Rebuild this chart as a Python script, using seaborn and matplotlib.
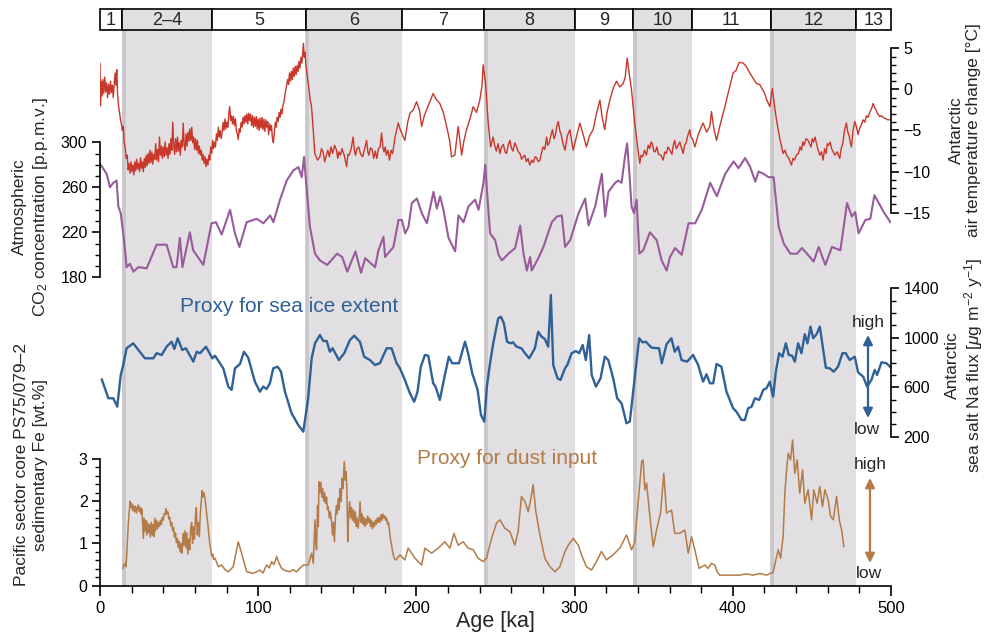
import numpy as np
import pandas as pd
import matplotlib
matplotlib.use("Agg")
import matplotlib.pyplot as plt
from matplotlib.patches import Rectangle, FancyArrowPatch
from matplotlib.ticker import FixedLocator
import seaborn as sns

# ---------------------------------------------------------------- data
# Marine isotope stages: labels, boundaries [ka] and glacial flag
stage_labels = ["1", "2\u20134", "5", "6", "7", "8", "9", "10", "11", "12", "13"]
stage_edges = [0, 14, 71, 130, 191, 243, 300, 337, 374, 424, 478, 500]
stage_glacial = [False, True, False, True, False, True, False, True, False, True, False]

# Antarctic air temperature change [deg C]  (ten values per row)
temp_age = [
    0, 0.3, 0.8, 1.3, 1.8, 2.4, 3, 3.6, 4.2, 4.8,
    5.4, 6, 6.6, 7.2, 7.8, 8.4, 9, 9.6, 10.1, 10.6,
    11.1, 11.6, 12.3, 12.9, 13.5, 14.1, 14.7, 15.3, 16, 16.6,
    17.2, 17.8, 18.4, 19, 19.6, 20.2, 20.8, 21.4, 22, 22.6,
    23.2, 23.8, 24.4, 25, 25.6, 26.2, 26.8, 27.4, 28, 28.6,
    29.2, 29.8, 30.4, 31, 31.6, 32.2, 32.8, 33.4, 34, 34.6,
    35.2, 35.8, 36.4, 37, 37.6, 38.2, 38.8, 39.4, 40, 40.6,
    41.2, 41.8, 42.4, 43, 43.6, 44.2, 44.8, 45.4, 46, 46.6,
    47.2, 47.8, 48.4, 49, 49.6, 50.2, 50.8, 51.4, 52, 52.6,
    53.2, 53.8, 54.4, 55, 55.6, 56.2, 56.8, 57.4, 58, 58.6,
    59.2, 59.8, 60.4, 61, 61.6, 62.2, 62.8, 63.4, 64, 64.6,
    65.2, 65.8, 66.4, 67, 67.6, 68.2, 68.8, 69.4, 70, 70.6,
    71.2, 71.8, 72.4, 73, 73.6, 74.2, 74.8, 75.4, 76, 76.6,
    77.2, 77.8, 78.4, 79, 79.6, 80.2, 80.8, 81.4, 82, 82.6,
    83.2, 83.8, 84.4, 85, 85.6, 86.2, 86.8, 87.4, 88, 88.6,
    89.2, 89.8, 90.4, 91, 91.6, 92.2, 92.8, 93.4, 94, 94.6,
    95.2, 95.8, 96.4, 97, 97.6, 98.2, 98.8, 99.4, 100, 100.6,
    101.2, 101.8, 102.4, 103, 103.6, 104.2, 104.8, 105.4, 106, 106.6,
    107.2, 107.8, 108.4, 109, 109.6, 110.2, 110.8, 111.4, 112, 112.6,
    113.2, 113.8, 114.4, 115, 115.6, 116.2, 116.8, 117.4, 118, 118.6,
    119.2, 119.8, 120.4, 121, 121.6, 122.2, 122.8, 123.4, 124, 124.6,
    125.2, 125.8, 126.4, 127, 127.6, 128.2, 128.6, 129.1, 129.6, 130.2,
    130.8, 131.4, 132, 132.8, 133.7, 135, 135.8, 137.5, 139, 140,
    141, 142, 143, 144, 145, 146, 147, 148.3, 149.5, 150.3,
    151, 152, 153, 154.5, 155.9, 156.7, 157.5, 158.8, 160, 160.8,
    161.5, 162.5, 163.5, 164.8, 166, 167.2, 168.5, 169.3, 170, 171,
    172, 173, 174, 175, 176, 177, 178, 178.8, 179.5, 180.3,
    181, 182, 183, 184, 185, 186.5, 188.5, 190, 192.7, 194.5,
    195.9, 198, 200.1, 202, 203.3, 205, 206.4, 208.5, 210.6, 212.5,
    214.8, 217, 219.1, 221, 222.2, 224.3, 226.4, 228.6, 230, 231.7,
    234, 235.9, 238, 240.1, 241.5, 242.2, 243.7, 245.4, 246.9, 248.5,
    249.5, 250.5, 251.6, 252.8, 254, 255, 256, 257, 258, 259.1,
    260, 261, 262.2, 263.3, 264.4, 265.5, 266.5, 267.5, 268.5, 269.5,
    270.6, 271.7, 273, 274, 275, 276, 277, 278.1, 279, 280,
    281.2, 282.3, 283, 284, 285, 286, 287, 287.8, 288.8, 289.7,
    290.6, 291.5, 292.7, 293.9, 295.5, 297, 299.1, 301, 303.3, 305,
    307.5, 309.5, 311.7, 313.5, 316, 317.5, 319.1, 320.5, 322.3, 324.5,
    326.5, 328.5, 330.7, 332, 333.2, 334.5, 336, 338, 339.5, 341.2,
    342, 343, 344.2, 345.4, 346.5, 347.5, 348.3, 349.2, 350, 351,
    352, 353, 354.5, 356, 357, 358, 359, 360, 361.5, 362.4,
    363.3, 364.2, 365, 366.5, 367.5, 368.6, 369.5, 370.5, 371.6, 372.8,
    373.6, 374.5, 376, 378, 380, 381.2, 383.5, 385.5, 386.5, 388,
    389.7, 392, 395, 397.5, 400.2, 402, 404, 406.6, 408.5, 410.7,
    413, 415, 417, 420.2, 421.5, 423.4, 424.5, 425, 426.2, 427.6,
    429.5, 431.8, 433, 434, 435.5, 436.3, 437.1, 438, 439, 440.2,
    441.5, 442.5, 443.4, 444.2, 445, 446.3, 447.6, 448.5, 449.5, 450.2,
    451, 452, 452.9, 454, 455, 456, 457.1, 458, 459, 459.8,
    460.5, 461.5, 462.4, 463.5, 464.5, 466, 467.6, 468.5, 469.5, 470.6,
    471.8, 472.7, 473.5, 474.2, 475, 476, 477.1, 478.2, 479.2, 480.1,
    481, 482.4, 483.5, 484.5, 485.5, 486.5, 487.6, 488.7, 489.6, 490.5,
    491.7, 492.9, 494, 495, 496, 497, 498, 499.2]
temp_val = [
    3.2, -2.0, 1.0, -0.8, 1.2, -0.5, 1.5, -0.3, 0.8, -1.0,
    0.6, -0.6, 1.0, -0.4, 0.5, -1.0, 0.8, 2.0, 0.5, 2.4,
    -0.5, -1.8, -2.8, -3.6, -4.2, -5.0, -4.5, -6.5, -7.2, -8.4,
    -8.0, -9.8, -9.0, -10.2, -8.8, -10.0, -9.2, -10.4, -8.8, -9.9,
    -8.5, -9.7, -9.0, -10.0, -8.3, -9.6, -8.8, -10.0, -8.4, -9.5,
    -8.0, -9.3, -7.8, -9.0, -7.4, -8.9, -7.6, -9.1, -7.9, -8.5,
    -6.6, -8.6, -7.3, -8.8, -5.8, -8.0, -6.9, -8.4, -7.0, -8.2,
    -6.4, -8.0, -7.1, -8.4, -6.6, -7.9, -6.0, -7.4, -4.0, -6.8,
    -7.9, -6.0, -7.6, -5.8, -7.5, -6.5, -8.0, -6.2, -7.0, -4.1,
    -6.8, -7.4, -5.4, -6.9, -5.2, -6.3, -4.8, -6.2, -4.6, -6.5,
    -5.8, -7.3, -6.0, -7.4, -6.2, -7.8, -6.9, -8.0, -7.4, -8.6,
    -7.9, -9.0, -8.2, -9.4, -8.5, -9.2, -8.0, -8.6, -7.0, -7.8,
    -6.2, -7.2, -6.4, -7.0, -5.4, -6.2, -4.6, -5.8, -5.0, -6.0,
    -5.2, -4.0, -5.0, -3.6, -4.8, -4.0, -4.6, -3.0, -2.1, -3.8,
    -3.2, -4.2, -3.3, -4.4, -3.6, -5.0, -5.4, -6.1, -4.8, -5.2,
    -4.0, -4.6, -3.4, -4.2, -3.2, -4.0, -3.0, -4.2, -2.9, -3.8,
    -3.0, -4.4, -3.2, -4.6, -3.4, -4.5, -3.3, -4.8, -3.6, -5.0,
    -3.5, -4.7, -3.4, -4.9, -3.6, -5.1, -3.7, -4.6, -3.9, -5.5,
    -4.2, -5.0, -4.4, -6.0, -6.5, -5.2, -4.0, -4.6, -3.4, -3.9,
    -2.8, -3.4, -2.4, -3.0, -2.0, -1.6, -0.8, -0.1, 0.5, 1.2,
    0.6, 2.0, 1.0, 2.2, 1.2, 2.6, 1.6, 2.8, 1.8, 2.9,
    2.2, 3.4, 2.6, 3.9, 3.2, 4.6, 5.6, 3.9, 4.5, 2.8,
    2.0, 1.0, 0.2, -1.2, -2.1, -5.5, -7.8, -8.6, -8.2, -7.2,
    -7.6, -8.8, -8.1, -7.4, -8.2, -7.0, -7.8, -6.8, -7.4, -8.4,
    -7.6, -8.0, -7.2, -8.1, -9.4, -7.9, -8.0, -7.2, -5.8, -7.4,
    -8.0, -7.2, -7.0, -7.9, -8.2, -7.3, -6.2, -7.6, -8.0, -7.1,
    -7.3, -8.4, -7.5, -8.4, -7.2, -7.0, -5.3, -7.0, -7.6, -7.0,
    -8.0, -7.4, -8.6, -7.4, -7.8, -5.8, -4.1, -5.0, -6.2, -4.0,
    -2.9, -2.5, -1.5, -2.6, -4.5, -3.2, -2.5, -1.5, -0.5, -1.2,
    -1.7, -2.8, -4.5, -6.2, -8.2, -8.0, -4.5, -8.0, -6.3, -4.9,
    -3.5, -2.1, -2.8, -1.3, 0.5, 3.0, 0.8, -4.1, -7.0, -5.8,
    -6.8, -7.5, -6.6, -7.8, -6.9, -6.7, -7.6, -7.8, -6.8, -6.2,
    -7.1, -7.5, -6.5, -7.0, -7.6, -7.8, -8.5, -8.2, -8.0, -8.8,
    -8.4, -9.2, -8.6, -8.9, -8.2, -8.3, -8.8, -8.6, -7.8, -7.0,
    -7.3, -5.8, -6.8, -6.5, -5.6, -4.9, -6.0, -5.6, -4.4, -3.9,
    -5.0, -5.5, -6.6, -7.4, -5.6, -4.9, -7.4, -5.9, -4.1, -5.2,
    -7.0, -5.6, -4.9, -3.2, -1.3, -3.5, -4.9, -2.8, -1.3, 0.2,
    1.0, 0.3, 0.7, 1.5, 3.8, 2.0, -0.1, -4.1, -6.5, -9.0,
    -8.0, -8.2, -7.4, -8.0, -6.8, -7.2, -6.4, -6.6, -7.5, -7.6,
    -7.0, -7.9, -8.0, -8.6, -7.6, -7.8, -7.0, -7.3, -7.9, -6.8,
    -6.2, -7.2, -7.0, -6.4, -7.1, -7.8, -6.8, -6.5, -5.6, -4.9,
    -5.8, -6.0, -7.0, -5.6, -4.6, -4.1, -5.2, -4.5, -2.7, -4.7,
    -6.2, -4.3, -2.1, -0.1, 2.0, 2.3, 3.3, 3.2, 2.8, 2.0,
    1.3, 0.7, 0.6, -0.5, -1.3, -2.1, -0.5, 0.1, -1.8, -3.7,
    -5.8, -7.8, -7.4, -8.0, -8.4, -8.9, -9.2, -8.4, -8.6, -8.0,
    -7.8, -7.0, -7.4, -6.4, -6.8, -6.0, -6.2, -6.6, -7.0, -6.0,
    -6.4, -5.8, -6.6, -7.4, -8.0, -7.6, -8.6, -7.2, -7.8, -6.6,
    -6.8, -6.4, -7.2, -7.6, -8.0, -7.6, -8.4, -7.2, -6.6, -5.0,
    -4.1, -5.2, -5.6, -6.4, -7.0, -5.0, -3.9, -4.6, -5.5, -4.8,
    -4.4, -3.7, -4.0, -3.2, -3.4, -2.8, -2.4, -1.7, -2.2, -2.5,
    -3.0, -3.3, -3.2, -3.4, -3.5, -3.6, -3.7, -3.7]

# Atmospheric CO2 [p.p.m.v.]
co2_age = [
    0, 4.2, 6.3, 8.4, 10.5, 11.6, 13.1, 15.2, 16.8, 18.9,
    21.1, 24.2, 29.5, 35.8, 42.1, 46.3, 48.4, 50.5, 52.1, 56.8,
    58.9, 65.3, 70.5, 73.3, 76.9, 82.2, 85.3, 88.1, 92.7, 99.1,
    103.3, 107.5, 109.6, 113.8, 118, 122.2, 125.4, 127.5, 129, 130.2,
    132.7, 135.9, 139, 143.6, 149.9, 153.1, 156.3, 161.5, 165, 167.6,
    173.9, 176, 179.2, 180.2, 185.5, 188.7, 190.8, 192.9, 195, 197.1,
    200.3, 203.4, 206.6, 210.8, 212.9, 215, 217.1, 220.3, 224.5, 226.6,
    229.8, 232.9, 237.1, 239.3, 242.4, 243.5, 245, 246.6, 249.8, 251.9,
    254, 258.2, 262.4, 265.6, 267.7, 269.8, 271.9, 272.9, 277.1, 280.3,
    285.6, 288.8, 291.9, 294, 297.2, 302.5, 306.7, 308.8, 313, 317.2,
    319.3, 321.4, 325.6, 327.6, 329.7, 331.8, 333.2, 334.5, 336, 337.5,
    339.2, 340.9, 343.4, 347.6, 351.9, 355, 358.2, 360.3, 363.5, 367.7,
    372, 376.2, 380.4, 385.7, 389.9, 395.2, 400.5, 403.6, 407.8, 411,
    414.2, 416.3, 419.4, 422.6, 425.8, 429, 432.2, 436.4, 440.6, 443.7,
    446.9, 451.1, 454.3, 458.5, 462.7, 468, 472.2, 475.3, 477.4, 479.5,
    483.8, 486.9, 489.5, 492.3, 495.4, 499.6]
co2_val = [
    281, 272, 260, 264, 266, 243, 237, 213, 189, 192,
    185, 189, 188, 209, 209, 189, 189, 215, 189, 220,
    204, 191, 228, 229, 218, 240, 219, 207, 229, 232,
    228, 235, 229, 249, 266, 275, 278, 269, 287, 266,
    225, 201, 195, 191, 201, 198, 185, 203, 184, 197,
    189, 204, 216, 198, 207, 231, 231, 219, 225, 246,
    250, 237, 228, 256, 241, 252, 240, 215, 203, 235,
    229, 243, 249, 240, 264, 280, 249, 219, 213, 200,
    195, 201, 206, 226, 201, 186, 198, 186, 197, 207,
    229, 234, 235, 207, 213, 237, 250, 226, 243, 272,
    234, 256, 264, 266, 264, 287, 299, 275, 243, 237,
    249, 201, 204, 220, 213, 195, 186, 198, 206, 200,
    228, 228, 240, 264, 252, 272, 283, 277, 286, 278,
    265, 274, 272, 269, 269, 225, 210, 201, 201, 206,
    201, 194, 207, 191, 207, 204, 246, 234, 238, 219,
    231, 232, 253, 246, 238, 229]

# Antarctic sea salt Na flux [ug m-2 y-1]
na_age = [
    1.1, 5.3, 8.4, 10.9, 13.1, 14.7, 16.8, 21, 28.4, 33.7,
    35.8, 39, 42.1, 45.3, 47, 49.1, 52, 54.3, 59, 61.1,
    63.2, 67, 71, 72.7, 77.9, 81.1, 83.2, 85.3, 88.5, 91,
    93.7, 97.9, 101.1, 103.2, 105.3, 107.4, 109.5, 112.3, 114.4, 116.9,
    121.1, 125.3, 128.5, 131.6, 133.8, 135.9, 139, 141.1, 143.3, 145.3,
    147, 151, 154.4, 158, 160.7, 164.3, 167, 170.6, 173.8, 176.9,
    181.2, 184.3, 187.5, 189.6, 192.7, 195.9, 198.6, 200.7, 202.8, 205.4,
    207.5, 210.6, 212.1, 214.8, 218, 220.5, 222.6, 226.9, 230.7, 232.7,
    235.3, 238.7, 240.8, 242.9, 244.5, 246.4, 248.5, 251.7, 253.4, 255.3,
    257.3, 259.5, 261.1, 263.3, 266.4, 268.6, 271.3, 274.9, 277, 279.1,
    281.2, 283.3, 285, 286.5, 289.2, 291.1, 293.9, 295.4, 298.1, 300.8,
    302.9, 305.1, 307.1, 309.2, 310.8, 313.5, 316.4, 319.1, 321.3, 324.4,
    326.9, 329.7, 332.8, 334.9, 337.7, 340.8, 343, 345, 348.6, 353.4,
    355.1, 358.1, 361.2, 363.3, 365.4, 367.6, 371.1, 374.9, 378.1, 381.2,
    383.4, 385.5, 387.6, 389.7, 392.8, 396, 400.2, 402.3, 405.5, 407.6,
    409.7, 411.9, 414, 416.7, 419.2, 421.3, 423.4, 425.5, 427.2, 429.3,
    431.4, 433.5, 435.4, 437.5, 439.2, 441.3, 443.4, 445.5, 447.2, 449.1,
    450.8, 452.9, 455, 458.8, 461.3, 463.8, 466.5, 469.3, 471.4, 473.9,
    477.1, 479.2, 482.4, 484.9, 487.6, 489.7, 491.2, 494, 497.1, 500]
na_val = [
    664, 511, 511, 443, 699, 780, 915, 955, 834, 834,
    875, 861, 928, 968, 909, 996, 901, 915, 807, 887,
    875, 928, 834, 855, 753, 605, 578, 753, 788, 887,
    839, 645, 564, 605, 586, 632, 753, 766, 726, 564,
    390, 295, 241, 511, 834, 955, 1022, 974, 974, 887,
    915, 820, 875, 982, 1017, 968, 847, 820, 780, 794,
    915, 915, 794, 753, 659, 551, 483, 564, 766, 861,
    855, 632, 605, 497, 699, 847, 794, 794, 968, 875,
    713, 578, 376, 322, 600, 780, 950, 1157, 1170, 1117,
    968, 955, 963, 928, 915, 875, 834, 915, 1049, 1009,
    990, 928, 1346, 780, 672, 659, 753, 780, 875, 893,
    875, 942, 820, 1022, 699, 605, 672, 847, 820, 672,
    511, 470, 309, 322, 645, 996, 963, 968, 920, 915,
    794, 947, 996, 887, 928, 820, 807, 861, 780, 645,
    705, 632, 632, 788, 766, 564, 430, 402, 335, 335,
    430, 443, 511, 497, 578, 592, 645, 524, 726, 875,
    847, 955, 861, 855, 807, 955, 875, 1028, 955, 1090,
    996, 1028, 1090, 758, 753, 726, 766, 875, 875, 820,
    847, 721, 685, 605, 659, 740, 699, 802, 794, 758]

# Sedimentary Fe, core PS75/079-2 [wt.%]
fe_age = [
    14.3, 15, 15.8, 16.4, 16.9, 17.4, 17.9, 18.5, 19, 19.4,
    20, 20.6, 21.2, 21.8, 22.4, 23, 23.6, 24.2, 24.8, 25.4,
    26, 26.5, 27, 27.4, 27.9, 28.4, 28.9, 29.5, 30, 30.6,
    31.2, 31.8, 32.4, 33, 33.5, 34, 34.6, 35.2, 35.8, 36.4,
    37, 37.6, 38.2, 38.8, 39.4, 40, 40.6, 41.2, 41.7, 42.3,
    42.9, 43.5, 44.1, 44.7, 45.3, 45.9, 46.5, 47.1, 47.7, 48.3,
    48.9, 49.5, 50.1, 50.7, 51.3, 51.9, 52.5, 53.1, 53.7, 54.3,
    54.9, 55.5, 56.1, 56.7, 57.3, 57.9, 58.5, 59.1, 59.7, 60.3,
    60.9, 61.5, 62.1, 62.8, 63.4, 64, 64.6, 65.2, 65.8, 66.4,
    67, 67.6, 68.2, 68.8, 69.4, 70, 70.6, 71.2, 71.8, 72.7,
    74.8, 76.9, 79, 81.1, 84.2, 87.4, 89.5, 92.7, 96.9, 101.1,
    103, 105.3, 107, 108.5, 110, 111.7, 113, 114.8, 117, 120.1,
    122, 124.3, 126.5, 128.5, 131.6, 133.8, 134.8, 135.9, 136.4, 136.9,
    137.5, 138, 138.4, 139, 139.6, 140.2, 140.8, 141.4, 142, 142.6,
    143.2, 143.8, 144.3, 145, 145.6, 146.4, 147, 147.6, 148.2, 148.8,
    149.4, 150, 150.6, 151.2, 151.8, 152.4, 153, 153.6, 154.4, 155,
    155.6, 156.1, 156.6, 157.2, 157.8, 158.4, 159, 159.6, 160.2, 160.8,
    161.4, 162, 162.6, 163.2, 163.8, 164.4, 165, 165.6, 166.2, 166.8,
    167.4, 168, 168.6, 169.2, 169.8, 170.4, 171, 171.6, 172.2, 172.8,
    173.4, 174, 174.6, 175.2, 175.8, 176.4, 177, 177.6, 178.2, 178.8,
    179.4, 180, 180.6, 181.2, 181.8, 182.4, 183, 183.6, 184.3, 185,
    185.6, 186.3, 187, 189.6, 192.7, 194.8, 199.1, 203.3, 205.4, 209.6,
    213.8, 218, 221.2, 223.7, 226.4, 229.6, 232.7, 235.9, 239, 242.2,
    244.3, 247.5, 250.6, 252.8, 255.9, 259.1, 262.2, 264.3, 266.4, 268.6,
    270.7, 272.4, 273.8, 275.5, 278.1, 281.2, 284.4, 287.6, 290.7, 293.9,
    296, 299.1, 302.3, 304.4, 307.5, 310.7, 313.8, 317, 320.1, 324.3,
    328.6, 332.8, 336, 338.1, 340.2, 342.4, 343.3, 344.4, 345.5, 347.6,
    349.7, 351.8, 354.3, 356.4, 358.1, 361.3, 363.3, 366.5, 369.7, 371.8,
    373.9, 376, 378.7, 382.3, 384.4, 386.5, 388.6, 390.1, 391.8, 398.1,
    404.4, 408.6, 412.8, 417.1, 421.3, 423.4, 425.5, 427.2, 428.7, 430.2,
    431.8, 432.9, 434, 435, 436.5, 437.8, 439.2, 440.7, 442.3, 444.1,
    445.5, 447.6, 449.8, 451.2, 453.3, 455, 456.7, 458.2, 460.3, 461.8,
    463.5, 465.6, 467.3, 468.8, 470.2]
fe_val = [
    0.41, 0.48, 0.53, 0.45, 0.73, 1.10, 1.48, 1.75, 2.00, 1.85,
    1.95, 1.78, 1.90, 1.75, 1.88, 1.72, 1.85, 1.91, 1.75, 1.86,
    1.70, 1.82, 1.40, 1.12, 1.60, 1.30, 1.55, 1.20, 1.50, 1.25,
    1.45, 1.15, 1.50, 1.20, 1.45, 1.16, 1.60, 1.30, 1.55, 1.35,
    1.50, 1.40, 1.55, 1.45, 1.62, 1.55, 1.70, 1.68, 1.83, 1.70,
    1.75, 1.58, 1.62, 1.42, 1.50, 1.30, 1.38, 1.15, 1.25, 1.02,
    1.12, 0.90, 1.05, 0.80, 1.00, 0.77, 1.24, 0.95, 1.30, 0.90,
    1.25, 0.75, 1.10, 0.85, 1.35, 1.50, 1.00, 1.40, 1.10, 1.60,
    1.85, 1.20, 1.50, 1.16, 1.70, 2.00, 2.25, 2.10, 2.20, 2.05,
    1.85, 1.65, 1.45, 1.20, 1.00, 0.85, 0.70, 0.75, 0.62, 0.65,
    0.45, 0.49, 0.38, 0.33, 0.45, 1.04, 0.77, 0.33, 0.29, 0.37,
    0.30, 0.49, 0.42, 0.57, 0.50, 0.69, 0.55, 0.41, 0.36, 0.33,
    0.38, 0.33, 0.42, 0.49, 0.49, 0.77, 0.53, 1.56, 1.00, 0.85,
    1.90, 1.40, 2.46, 2.20, 2.45, 2.10, 2.30, 2.00, 2.20, 1.95,
    2.10, 1.80, 1.87, 1.60, 1.75, 1.50, 1.20, 1.50, 1.04, 1.60,
    1.90, 1.70, 2.07, 1.80, 2.30, 2.00, 2.54, 2.30, 2.94, 2.50,
    2.70, 2.20, 1.04, 1.70, 1.99, 1.60, 1.85, 1.55, 1.80, 1.50,
    1.75, 1.40, 1.60, 1.36, 1.60, 1.99, 1.50, 1.70, 1.45, 1.62,
    1.40, 1.58, 1.45, 1.65, 1.50, 1.60, 1.40, 1.55, 1.35, 1.50,
    1.40, 1.55, 1.45, 1.60, 1.50, 1.62, 1.50, 1.68, 1.55, 1.70,
    1.60, 1.65, 1.55, 1.60, 1.45, 1.50, 1.30, 1.10, 0.96, 0.80,
    0.70, 0.62, 0.61, 0.73, 0.61, 0.89, 0.65, 0.49, 0.89, 0.77,
    0.89, 1.04, 0.89, 1.24, 0.96, 1.04, 0.89, 0.85, 0.65, 0.57,
    0.65, 1.12, 1.48, 1.56, 1.36, 1.28, 0.96, 1.28, 2.11, 1.99,
    1.75, 2.07, 2.39, 1.75, 1.20, 0.65, 0.45, 0.33, 0.45, 0.81,
    0.96, 1.12, 0.96, 0.73, 0.45, 0.37, 0.57, 0.81, 0.61, 0.73,
    0.89, 1.20, 0.85, 1.04, 1.99, 2.94, 2.98, 2.27, 2.43, 1.64,
    0.92, 1.32, 1.72, 2.66, 1.72, 1.79, 1.24, 1.24, 1.32, 0.77,
    1.16, 0.85, 0.41, 0.49, 0.41, 0.53, 0.49, 0.33, 0.25, 0.25,
    0.25, 0.28, 0.25, 0.29, 0.25, 0.29, 0.31, 0.61, 0.85, 0.65,
    1.16, 2.19, 2.74, 3.14, 2.98, 3.45, 2.66, 2.98, 2.19, 2.74,
    1.95, 2.27, 1.56, 2.27, 1.95, 2.35, 1.87, 2.27, 2.03, 1.64,
    1.56, 2.11, 1.56, 1.32, 0.92]

# ---------------------------------------------------------------- style
sns.set_theme(style="white")
plt.rcParams["font.family"] = ["Liberation Sans", "DejaVu Sans"]
plt.rcParams["mathtext.fontset"] = "custom"
plt.rcParams["mathtext.rm"] = "Liberation Sans"
plt.rcParams["mathtext.it"] = "Liberation Sans:italic"
plt.rcParams["mathtext.bf"] = "Liberation Sans:bold"

RED = "#c8372a"
PURPLE = "#985b9b"
BLUE = "#2f6096"
BROWN = "#b27b48"
SHADE = "#e1dfe1"
TERM = "#c8c6c8"
TICK_FS = 11.5

W, H = 985, 637
L, R, T, B = 100, 891, 30, 585.7   # plotting frame in pixels


def fx(px):
    return px / W


def fy(py):
    return 1 - py / H


rect = [fx(L), fy(B), fx(R) - fx(L), fy(T) - fy(B)]


def lims(v1, p1, v2, p2):
    """y-limits so that value v1 sits at pixel row p1 and v2 at p2."""
    k = (v2 - v1) / (p2 - p1)
    return v1 + k * (B - p1), v1 + k * (T - p1)


fig = plt.figure(figsize=(W / 100, H / 100), dpi=100)

# background: glacial shading and terminations
ax_bg = fig.add_axes(rect)
ax_bg.set_xlim(0, 500)
ax_bg.set_ylim(0, 1)
ax_bg.axis("off")
for i, g in enumerate(stage_glacial):
    if g:
        a, b = stage_edges[i], stage_edges[i + 1]
        ax_bg.axvspan(a, b, color=SHADE, lw=0, zorder=0)
        ax_bg.axvline(a + 0.9, color=TERM, lw=2.6, zorder=1)

# stage strip on top
ax_top = fig.add_axes([fx(L), fy(T), fx(R) - fx(L), (T - 9.3) / H])
ax_top.set_xlim(0, 500)
ax_top.set_ylim(0, 1)
ax_top.axis("off")
for i, lab in enumerate(stage_labels):
    a, b = stage_edges[i], stage_edges[i + 1]
    ax_top.add_patch(Rectangle((a, 0), b - a, 1,
                               facecolor=SHADE if stage_glacial[i] else "white",
                               edgecolor="black", lw=1.2, clip_on=False))
    ax_top.text((a + b) / 2, 0.45, lab, ha="center", va="center", fontsize=13)


def new_axes():
    ax = fig.add_axes(rect)
    ax.patch.set_visible(False)
    return ax


def finish(ax, side, lo, hi, major, minor, ylim, show_x=False):
    ax.set_xlim(0, 500)
    ax.set_ylim(*ylim)
    for s in ax.spines.values():
        s.set_visible(False)
    sp = ax.spines[side]
    sp.set_visible(True)
    sp.set_bounds(lo, hi)
    sp.set_linewidth(1.2)
    sp.set_color("black")
    ax.yaxis.set_major_locator(FixedLocator(major))
    ax.yaxis.set_minor_locator(FixedLocator(minor))
    if side == "right":
        ax.yaxis.tick_right()
    else:
        ax.yaxis.tick_left()
    ax.tick_params(axis="y", which="major", direction="out", length=6, width=1.2,
                   labelsize=TICK_FS, pad=3, colors="black")
    ax.tick_params(axis="y", which="minor", direction="out", length=3.5, width=1.0,
                   colors="black")
    ax.set_xlabel("")
    ax.set_ylabel("")
    if show_x:
        bs = ax.spines["bottom"]
        bs.set_visible(True)
        bs.set_bounds(0, 500)
        bs.set_linewidth(1.2)
        bs.set_color("black")
        ax.xaxis.set_major_locator(FixedLocator(np.arange(0, 501, 100)))
        ax.xaxis.set_minor_locator(FixedLocator(np.arange(0, 501, 20)))
        ax.xaxis.tick_bottom()
        ax.tick_params(axis="x", which="major", direction="out", length=7, width=1.2,
                       labelsize=TICK_FS + 0.5, pad=4, colors="black")
        ax.tick_params(axis="x", which="minor", direction="out", length=5, width=1.0,
                       colors="black")
    else:
        ax.xaxis.set_visible(False)


# temperature (right axis)
ax_t = new_axes()
sns.lineplot(data=pd.DataFrame({"age": temp_age, "t": temp_val}), x="age", y="t",
             ax=ax_t, color=RED, lw=1.0, estimator=None, sort=False)
finish(ax_t, "right", -15, 5, np.arange(-15, 6, 5), np.arange(-15, 6, 1),
       lims(5, 48.3, -15, 212.7))

# CO2 (left axis)
ax_c = new_axes()
sns.lineplot(data=pd.DataFrame({"age": co2_age, "co2": co2_val}), x="age", y="co2",
             ax=ax_c, color=PURPLE, lw=1.5, estimator=None, sort=False)
finish(ax_c, "left", 180, 300, np.arange(180, 301, 40), np.arange(180, 301, 10),
       lims(300, 142.3, 180, 277.3))

# Na flux (right axis)
ax_n = new_axes()
sns.lineplot(data=pd.DataFrame({"age": na_age, "na": na_val}), x="age", y="na",
             ax=ax_n, color=BLUE, lw=1.7, estimator=None, sort=False)
finish(ax_n, "right", 200, 1400, np.arange(200, 1401, 400), np.arange(200, 1401, 100),
       lims(1400, 288.3, 200, 436.7))

# Fe (left axis, carries the age axis)
ax_f = new_axes()
sns.lineplot(data=pd.DataFrame({"age": fe_age, "fe": fe_val}), x="age", y="fe",
             ax=ax_f, color=BROWN, lw=1.1, estimator=None, sort=False)
finish(ax_f, "left", 0, 3, np.arange(0, 4, 1), np.round(np.arange(0, 3.01, 0.2), 1),
       lims(3, 459, 0, 585.7), show_x=True)

# axis titles
LAB_FS = 12.5
fig.text(fx(31), fy(207), "Atmospheric\nCO$_2$ concentration [p.p.m.v.]", rotation=90,
         ha="center", va="center", multialignment="center", fontsize=LAB_FS, linespacing=1.3)
fig.text(fx(31), fy(465), "Pacific sector core PS75/079\u20132\nsedimentary Fe [wt.%]",
         rotation=90, ha="center", va="center", multialignment="center", fontsize=LAB_FS,
         linespacing=1.3)
fig.text(fx(965), fy(130), "Antarctic\nair temperature change [\u00b0C]", rotation=90,
         ha="center", va="center", multialignment="center", fontsize=LAB_FS, linespacing=1.15)
fig.text(fx(965), fy(365), "Antarctic\nsea salt Na flux [$\\mu$g m$^{-2}$ y$^{-1}$]",
         rotation=90, ha="center", va="center", multialignment="center", fontsize=LAB_FS,
         linespacing=1.15)
fig.text(fx(495), fy(622), "Age [ka]", ha="center", va="center", fontsize=15.5)

# proxy annotations
fig.text(fx(289), fy(306), "Proxy for sea ice extent", ha="center", va="center",
         fontsize=15, color=BLUE)
fig.text(fx(507), fy(459), "Proxy for dust input", ha="center", va="center",
         fontsize=15, color=BROWN)

for xpx, y_hi, y_lo, col in [(868, 335, 418, BLUE), (870, 478, 563, BROWN)]:
    fig.add_artist(FancyArrowPatch(
        (fx(xpx), fy(y_lo)), (fx(xpx), fy(y_hi)), transform=fig.transFigure,
        arrowstyle="<|-|>", mutation_scale=14, color=col, lw=1.6,
        shrinkA=0, shrinkB=0))
    fig.text(fx(xpx), fy(y_hi - 13), "high", ha="center", va="center", fontsize=12.5)
    fig.text(fx(xpx - 1), fy(y_lo + 11), "low", ha="center", va="center", fontsize=12.5)

fig.savefig("out.png", dpi=100)
